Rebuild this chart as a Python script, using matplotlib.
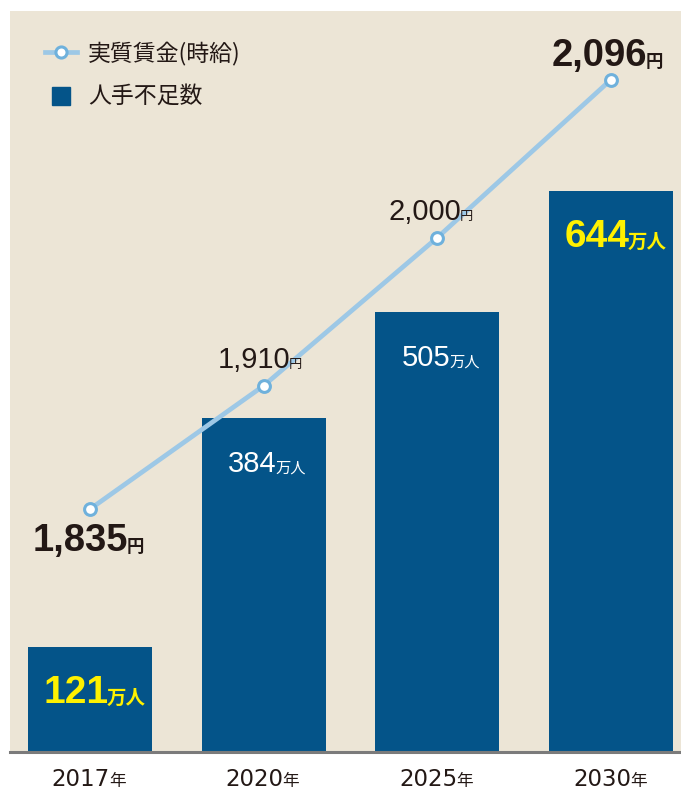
import numpy as np
import matplotlib
matplotlib.use("Agg")
import matplotlib.pyplot as plt
from matplotlib.lines import Line2D
from matplotlib.patches import Rectangle

plt.rcParams["font.family"] = ["Noto Sans CJK JP", "DejaVu Sans"]
NUMFONT = ["Liberation Sans", "Noto Sans CJK JP"]
YEARFONT = ["DejaVu Sans", "Noto Sans CJK JP"]

# data
years = ["2017", "2020", "2025", "2030"]
shortage = [121, 384, 505, 644]          # 人手不足数 (万人)
wage = [1835, 1910, 2000, 2096]          # 実質賃金 (時給, 円)
shortage_bold = [True, False, False, True]
wage_bold = [True, False, False, True]

W, H = 681, 793
BG = "#ece5d6"
BAR = "#045489"
LINE = "#9dc8e6"
MARK = "#6fb1dc"
INK = "#231815"
YELLOW = "#fff100"

fig = plt.figure(figsize=(W / 100, H / 100), dpi=100)
fig.patch.set_facecolor("white")

left, right, top, bottom = 10, 681, 11, 752
ax = fig.add_axes([left / W, 1 - bottom / H, (right - left) / W, (bottom - top) / H])
ax.set_facecolor(BG)

x = np.arange(len(years))
ax.bar(x, shortage, width=0.714, color=BAR, zorder=2)
ax.set_xlim(-0.4606, 3.403)
ax.set_ylim(0, (bottom - top) / 0.871)

for s in ["top", "right", "left"]:
    ax.spines[s].set_visible(False)
ax.spines["bottom"].set_color("#7b7b7b")
ax.spines["bottom"].set_linewidth(2.2)
ax.set_xticks([])
ax.set_yticks([])

ax2 = ax.twinx()
ax2.plot(x, wage, color=LINE, lw=3.4, marker="o", ms=8.5, mfc="white",
         mec=MARK, mew=2.2, solid_capstyle="butt", zorder=5)
ax2.set_ylim(1687.4, 2137.7)
ax2.axis("off")


def label(axis, xv, yv, num, unit, dy, bold, color, size, usize, dx=0,
          family=NUMFONT, xycoords="data", gap=-1.5):
    w = "bold" if bold else "normal"
    t = axis.annotate(num, (xv, yv), xycoords=xycoords, xytext=(dx, dy),
                      textcoords="offset pixels", ha="center", va="center",
                      fontsize=size, fontweight=w, color=color, family=family,
                      zorder=10)
    axis.annotate(unit, xy=(1, 0.19), xycoords=t, xytext=(gap, 0),
                  textcoords="offset pixels", ha="left", va="baseline",
                  fontsize=usize, fontweight=w, color=color, zorder=10)


# wage labels
wage_off = [(-10, -32), (-10, 26), (-12, 26), (-12, 24)]
for i, v in enumerate(wage):
    b = wage_bold[i]
    label(ax2, x[i], v, f"{v:,}", "円", wage_off[i][1], b, INK,
          27.5 if b else 21, 12.5 if b else 9.5, dx=wage_off[i][0])

# shortage labels
for i, v in enumerate(shortage):
    b = shortage_bold[i]
    label(ax, x[i], v, str(v), "万人", -46, b, YELLOW if b else "white",
          28 if b else 21, 14 if b else 11, dx=-14 if b else -11)

# year labels
for i, yr in enumerate(years):
    label(ax, x[i], 0, yr, "年", -27, False, INK, 16.5, 12, dx=-9,
          family=YEARFONT, xycoords=("data", "axes fraction"), gap=-1)

# legend
fx = lambda p: p / W
fy = lambda p: 1 - p / H
fig.add_artist(Line2D([fx(45), fx(77)], [fy(52), fy(52)], color=LINE, lw=3.4,
                      transform=fig.transFigure))
fig.add_artist(Line2D([fx(61)], [fy(52)], marker="o", ms=8, mfc="white", mec=MARK,
                      mew=2.2, transform=fig.transFigure))
fig.add_artist(Rectangle((fx(52), fy(105)), fx(18), 18 / H, color=BAR,
                         transform=fig.transFigure))
fig.text(fx(88), fy(53), "実質賃金(時給)", fontsize=16.5, color=INK, va="center")
fig.text(fx(88), fy(96), "人手不足数", fontsize=16.5, color=INK, va="center")

fig.savefig("out.png", dpi=100)
